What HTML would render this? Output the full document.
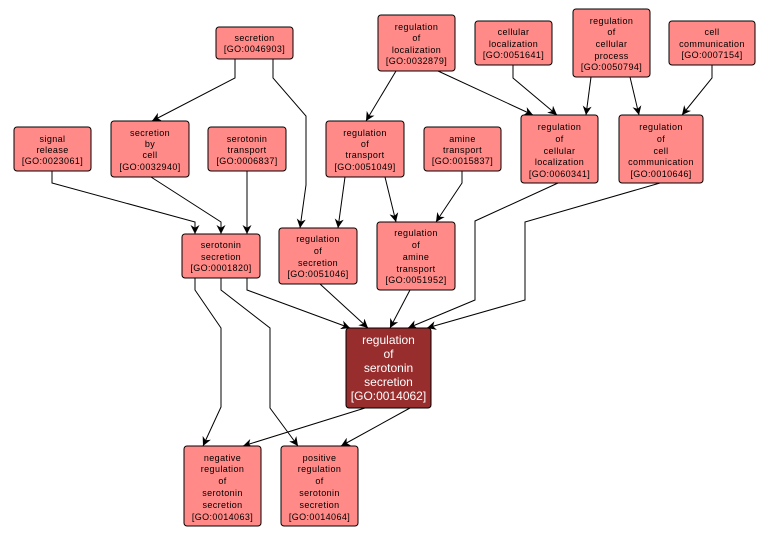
<!DOCTYPE html>
<html><head><meta charset="utf-8"><style>
html,body{margin:0;padding:0;background:#fff;}
svg{display:block;}
text{font-family:"Liberation Sans",sans-serif;font-size:9px;fill:#000;text-anchor:middle;letter-spacing:0.4px;}
.n{fill:#ff8a87;stroke:#000;stroke-width:1;}
.m{fill:#982d2d;stroke:#000;stroke-width:1;}
.e{fill:none;stroke:#000;stroke-width:1;}
</style></head><body>
<svg width="770" height="536" viewBox="0 0 770 536">
<defs><marker id="a" viewBox="0 0 10 10" refX="10" refY="5" markerWidth="9" markerHeight="9" orient="auto" markerUnits="userSpaceOnUse"><path d="M0,0 L10,5 L0,10 L3,5 z" fill="#000"/></marker></defs>
<g class="e" marker-end="url(#a)">
<polyline class="e" points="235,59 235,78 152,121"/>
<polyline class="e" points="273,59 273,78 306,116 306,185 300,228"/>
<polyline class="e" points="52,171 52,183 195,222 195,234"/>
<polyline class="e" points="151,177 221,222 221,234"/>
<polyline class="e" points="247,171 247,234"/>
<polyline class="e" points="345,177 338,228"/>
<polyline class="e" points="385,177 396,222"/>
<polyline class="e" points="396,71 366,121"/>
<polyline class="e" points="438,71 533,115"/>
<polyline class="e" points="513,65 513,78 557,115"/>
<polyline class="e" points="591,77 586,115"/>
<polyline class="e" points="630,77 639,115"/>
<polyline class="e" points="712,65 712,78 682,115"/>
<polyline class="e" points="462,171 462,183 436,222"/>
<polyline class="e" points="247,278 247,290 350,328"/>
<polyline class="e" points="320,284 368,328"/>
<polyline class="e" points="410,290 390,328"/>
<polyline class="e" points="558,183 475,221 475,300 408,328"/>
<polyline class="e" points="660,183 525,222 525,300 427,328"/>
<polyline class="e" points="195,278 195,290 221,328 221,407 203,446"/>
<polyline class="e" points="221,278 221,290 270,328 270,408 298,446"/>
<polyline class="e" points="365,408 243,446"/>
<polyline class="e" points="410,408 341,446"/>
</g>
<rect class="n" x="216" y="27" width="77" height="32" rx="3"/>
<text x="254.5" y="41">secretion</text><text x="254.5" y="52">[GO:0046903]</text>
<rect class="n" x="14" y="127" width="77" height="44" rx="3"/>
<text x="52.5" y="142">signal</text><text x="52.5" y="153">release</text><text x="52.5" y="164">[GO:0023061]</text>
<rect class="n" x="111" y="121" width="78" height="56" rx="3"/>
<text x="150" y="136">secretion</text><text x="150" y="147">by</text><text x="150" y="158">cell</text><text x="150" y="170">[GO:0032940]</text>
<rect class="n" x="208" y="127" width="78" height="44" rx="3"/>
<text x="247" y="142">serotonin</text><text x="247" y="153">transport</text><text x="247" y="164">[GO:0006837]</text>
<rect class="n" x="182" y="234" width="78" height="44" rx="3"/>
<text x="221" y="248">serotonin</text><text x="221" y="260">secretion</text><text x="221" y="271">[GO:0001820]</text>
<rect class="n" x="279" y="228" width="78" height="56" rx="3"/>
<text x="318" y="242">regulation</text><text x="318" y="254">of</text><text x="318" y="266">secretion</text><text x="318" y="277">[GO:0051046]</text>
<rect class="n" x="326" y="121" width="78" height="56" rx="3"/>
<text x="365" y="136">regulation</text><text x="365" y="147">of</text><text x="365" y="158">transport</text><text x="365" y="170">[GO:0051049]</text>
<rect class="n" x="378" y="15" width="77" height="56" rx="3"/>
<text x="416.5" y="30">regulation</text><text x="416.5" y="41">of</text><text x="416.5" y="53">localization</text><text x="416.5" y="64">[GO:0032879]</text>
<rect class="n" x="475" y="21" width="77" height="44" rx="3"/>
<text x="513.5" y="35">cellular</text><text x="513.5" y="47">localization</text><text x="513.5" y="58">[GO:0051641]</text>
<rect class="n" x="573" y="9" width="77" height="68" rx="3"/>
<text x="611.5" y="24">regulation</text><text x="611.5" y="35">of</text><text x="611.5" y="47">cellular</text><text x="611.5" y="59">process</text><text x="611.5" y="70">[GO:0050794]</text>
<rect class="n" x="669" y="21" width="86" height="44" rx="3"/>
<text x="712" y="35">cell</text><text x="712" y="47">communication</text><text x="712" y="58">[GO:0007154]</text>
<rect class="n" x="424" y="127" width="77" height="44" rx="3"/>
<text x="462.5" y="142">amine</text><text x="462.5" y="153">transport</text><text x="462.5" y="164">[GO:0015837]</text>
<rect class="n" x="521" y="115" width="77" height="68" rx="3"/>
<text x="559.5" y="130">regulation</text><text x="559.5" y="142">of</text><text x="559.5" y="154">cellular</text><text x="559.5" y="165">localization</text><text x="559.5" y="177">[GO:0060341]</text>
<rect class="n" x="619" y="115" width="84" height="68" rx="3"/>
<text x="661" y="130">regulation</text><text x="661" y="142">of</text><text x="661" y="154">cell</text><text x="661" y="165">communication</text><text x="661" y="177">[GO:0010646]</text>
<rect class="n" x="377" y="222" width="78" height="68" rx="3"/>
<text x="416" y="236">regulation</text><text x="416" y="248">of</text><text x="416" y="260">amine</text><text x="416" y="272">transport</text><text x="416" y="283">[GO:0051952]</text>
<rect class="m" x="346" y="328" width="85" height="80" rx="3"/>
<g><text x="388.5" y="344" style="font-size:12px;fill:#fff;letter-spacing:0">regulation</text><text x="388.5" y="358" style="font-size:12px;fill:#fff;letter-spacing:0">of</text><text x="388.5" y="372" style="font-size:12px;fill:#fff;letter-spacing:0">serotonin</text><text x="388.5" y="386" style="font-size:12px;fill:#fff;letter-spacing:0">secretion</text><text x="388.5" y="400" style="font-size:12px;fill:#fff;letter-spacing:0">[GO:0014062]</text></g>
<rect class="n" x="184" y="446" width="77" height="80" rx="3"/>
<text x="222.5" y="461">negative</text><text x="222.5" y="472">regulation</text><text x="222.5" y="484">of</text><text x="222.5" y="496">serotonin</text><text x="222.5" y="508">secretion</text><text x="222.5" y="520">[GO:0014063]</text>
<rect class="n" x="281" y="446" width="77" height="80" rx="3"/>
<text x="319.5" y="461">positive</text><text x="319.5" y="472">regulation</text><text x="319.5" y="484">of</text><text x="319.5" y="496">serotonin</text><text x="319.5" y="508">secretion</text><text x="319.5" y="520">[GO:0014064]</text>
</svg>
</body></html>
